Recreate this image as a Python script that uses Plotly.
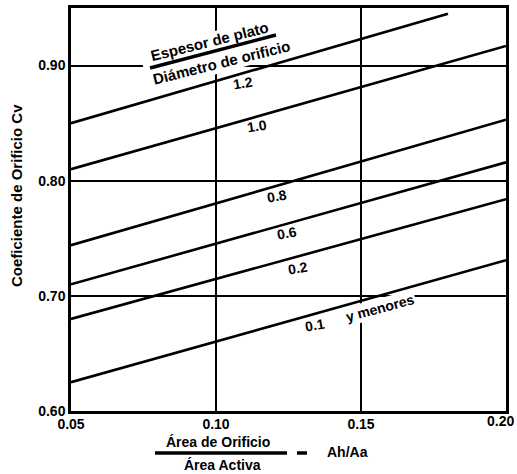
import plotly.graph_objects as go

# ---- data ----
ratio_labels = ["1.2", "1.0", "0.8", "0.6", "0.2", "0.1"]
x_start = [0.05, 0.05, 0.05, 0.05, 0.05, 0.05]
x_end = [0.18, 0.20, 0.20, 0.20, 0.20, 0.20]
cv_start = [0.850, 0.810, 0.744, 0.710, 0.680, 0.625]
cv_end = [0.945, 0.917, 0.853, 0.816, 0.784, 0.731]

x_ticks = [0.05, 0.10, 0.15, 0.20]
x_tick_text = ["0.05", "0.10", "0.15", "0.20"]
y_ticks = [0.60, 0.70, 0.80, 0.90]
y_tick_text = ["0.60", "0.70", "0.80", "0.90"]

W, H = 517, 474
ml, mr, mt, mb = 71, 11, 8, 63
pw, ph = W - ml - mr, H - mt - mb
XR = (0.05, 0.20)
YR = (0.60, 0.95)

def px2data(px, py):
    return (XR[0] + (px - ml) / pw * (XR[1] - XR[0]),
            YR[1] - (py - mt) / ph * (YR[1] - YR[0]))

def px2paper(px, py):
    return (px - ml) / pw, ((H - py) - mb) / ph

fig = go.Figure()
for lab, xs, xe, ys, ye in zip(ratio_labels, x_start, x_end, cv_start, cv_end):
    fig.add_trace(go.Scatter(x=[xs, xe], y=[ys, ye], mode="lines",
                             line=dict(color="black", width=2.6),
                             name=lab, showlegend=False, hoverinfo="skip"))

F = "Liberation Sans"
anns = []

# curve labels at pixel positions
curve_label_pos = [
    (243, 83, "1.2", -9),
    (257, 126, "1.0", -9),
    (277, 196, "0.8", -10),
    (287, 233, "0.6", -10),
    (298, 268, "0.2", -10),
    (315, 325, "0.1", -10),
]
for px, py, t, a in curve_label_pos:
    x, y = px2data(px, py)
    anns.append(dict(x=x, y=y, xref="x", yref="y", text=f"<b>{t}</b>", showarrow=False,
                     xanchor="center", yanchor="middle", textangle=a,
                     font=dict(family=F, size=14, color="black")))

x, y = px2data(380, 308)
anns.append(dict(x=x, y=y, xref="x", yref="y", text="<b>y menores</b>", showarrow=False,
                 xanchor="center", yanchor="middle", textangle=-15,
                 font=dict(family=F, size=14, color="black"), bgcolor="white", borderpad=1))
x, y = px2data(209, 41)
anns.append(dict(x=x, y=y, xref="x", yref="y", text="<b>Espesor de plato</b>", showarrow=False,
                 xanchor="center", yanchor="middle", textangle=-14,
                 font=dict(family=F, size=15, color="black")))
x, y = px2data(221, 62)
anns.append(dict(x=x, y=y, xref="x", yref="y", text="<b>Diámetro de orificio</b>", showarrow=False,
                 xanchor="center", yanchor="middle", textangle=-14,
                 font=dict(family=F, size=15, color="black")))

# x-axis title as a fraction
for px, py, t, s in [(218, 442, "Área de Orificio", 14), (222, 465, "Área Activa", 14),
                     (347, 452, "Ah/Aa", 14)]:
    x, y = px2paper(px, py)
    anns.append(dict(x=x, y=y, xref="paper", yref="paper", text=f"<b>{t}</b>", showarrow=False,
                     xanchor="center", yanchor="middle",
                     font=dict(family=F, size=s, color="black")))

# y-axis title
x, y = px2paper(17, 196)
anns.append(dict(x=x, y=y, xref="paper", yref="paper", text="<b>Coeficiente de Orificio Cv</b>",
                 showarrow=False, textangle=-90, xanchor="center", yanchor="middle",
                 font=dict(family=F, size=15, color="black")))

# last x tick label sits at the page edge: place it inside the page
x, y = px2paper(516, 421)
anns.append(dict(x=x, y=y, xref="paper", yref="paper", text=f"<b>{x_tick_text[-1]}</b>",
                 showarrow=False, xanchor="right", yanchor="middle",
                 font=dict(family=F, size=14, color="black")))

shapes = []
# white backing behind the title block (hides gridlines, not curves)
c = (214, 53)
u = (0.966, -0.259)
n = (0.259, 0.966)
hw, hh = 72, 21
pts = []
for sw, sh in [(-1, -1), (1, -1), (1, 1), (-1, 1)]:
    px = c[0] + sw * hw * u[0] + sh * hh * n[0]
    py = c[1] + sw * hw * u[1] + sh * hh * n[1]
    pts.append(px2data(px, py))
path = "M " + " L ".join(f"{p[0]:.5f},{p[1]:.5f}" for p in pts) + " Z"
shapes.append(dict(type="path", path=path, xref="x", yref="y", fillcolor="white",
                   line=dict(width=0), layer="between"))
# thick bar between "Espesor de plato" and "Diámetro de orificio"
x0, y0 = px2data(150, 68)
x1, y1 = px2data(276, 35)
shapes.append(dict(type="line", xref="x", yref="y", x0=x0, y0=y0, x1=x1, y1=y1,
                   line=dict(color="black", width=3.5), layer="above"))
# fraction bar and equals dash
for a, b in [((155, 453), (287, 453)), ((297, 453), (307, 453))]:
    fx0, fy0 = px2paper(*a)
    fx1, fy1 = px2paper(*b)
    shapes.append(dict(type="line", xref="paper", yref="paper", x0=fx0, y0=fy0, x1=fx1, y1=fy1,
                       line=dict(color="black", width=3.5)))

axis_common = dict(showgrid=True, gridcolor="black", gridwidth=1.5, zeroline=False,
                   showline=True, linecolor="black", linewidth=2.5, mirror=True,
                   ticks="", automargin=False,
                   tickfont=dict(family=F, size=14, color="black"))

fig.update_layout(
    width=W, height=H,
    margin=dict(l=ml, r=mr, t=mt, b=mb),
    plot_bgcolor="white", paper_bgcolor="white",
    annotations=anns, shapes=shapes,
    xaxis=dict(range=list(XR), tickvals=x_ticks,
               ticktext=[f"<b>{t}</b>" for t in x_tick_text[:-1]] + [""],
               ticklabelstandoff=-2, **axis_common),
    yaxis=dict(range=list(YR), tickvals=y_ticks, ticktext=[f"<b>{t}</b>" for t in y_tick_text],
               **axis_common),
)

fig.write_html("out.html")
